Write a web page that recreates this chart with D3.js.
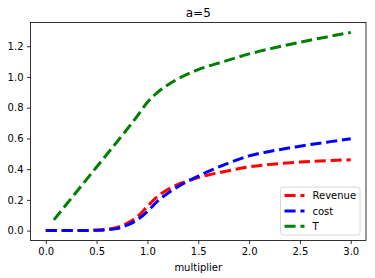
<!DOCTYPE html>
<html>
<head>
<meta charset="utf-8">
<script src="https://cdn.jsdelivr.net/npm/d3@7"></script>
<style>
  body { margin: 0; background: #fff; }
  svg { display: block; font-family: "DejaVu Sans", sans-serif; }
</style>
</head>
<body>
<svg id="canvas" width="375" height="278"></svg>
<script>
// values
const revenueX = [0, 0.2, 0.4, 0.5, 0.6, 0.7, 0.8, 0.9, 1.0, 1.1, 1.2, 1.3, 1.4, 1.5, 1.6, 1.8, 2.0, 2.2, 2.5, 2.8, 3.0];
const revenueY = [0, 0, 0.001, 0.003, 0.008, 0.02, 0.048, 0.09, 0.158, 0.222, 0.268, 0.3, 0.325, 0.345, 0.362, 0.39, 0.415, 0.43, 0.446, 0.456, 0.461];

const costX = [0, 0.2, 0.4, 0.5, 0.6, 0.7, 0.8, 0.9, 1.0, 1.1, 1.2, 1.3, 1.4, 1.5, 1.6, 1.8, 2.0, 2.2, 2.5, 2.8, 3.0];
const costY = [0, 0, 0.001, 0.002, 0.005, 0.013, 0.035, 0.07, 0.125, 0.192, 0.243, 0.286, 0.322, 0.355, 0.385, 0.44, 0.486, 0.515, 0.549, 0.579, 0.598];

const tX = [0.08, 0.2, 0.4, 0.6, 0.8, 0.9, 1.0, 1.1, 1.2, 1.3, 1.4, 1.5, 1.75, 2.0, 2.25, 2.5, 2.75, 3.0];
const tY = [0.07, 0.168, 0.332, 0.495, 0.66, 0.745, 0.835, 0.9, 0.948, 0.988, 1.02, 1.048, 1.1, 1.15, 1.19, 1.226, 1.259, 1.29];

const xTicks = [0.0, 0.5, 1.0, 1.5, 2.0, 2.5, 3.0];
const yTicks = [0.0, 0.2, 0.4, 0.6, 0.8, 1.0, 1.2];

const series = [
  {name: 'Revenue', xs: revenueX, ys: revenueY, color: '#ff0000'},
  {name: 'cost', xs: costX, ys: costY, color: '#0000ff'},
  {name: 'T', xs: tX, ys: tY, color: '#008000'}
];

const margin = {left: 30.5, right: 9, top: 22.5, bottom: 37.5};
const W = 375, H = 278;

let canvas = d3.select('#canvas');

// matplotlib style 5% padding on data range
let x = d3.scaleLinear().domain([-0.15, 3.15]).range([margin.left, W - margin.right]);
let y = d3.scaleLinear().domain([-0.0645, 1.3545]).range([H - margin.bottom, margin.top]);

let line = d3.line()
  .x(d => x(d[0]))
  .y(d => y(d[1]))
  .curve(d3.curveMonotoneX);

canvas.append('clipPath').attr('id', 'clip')
  .append('rect')
  .attr('x', margin.left).attr('y', margin.top)
  .attr('width', W - margin.left - margin.right)
  .attr('height', H - margin.top - margin.bottom);

let plot = canvas.append('g').attr('clip-path', 'url(#clip)');

series.forEach(s => {
  plot.append('path')
    .datum(s.xs.map((v, i) => [v, s.ys[i]]))
    .attr('d', line)
    .attr('fill', 'none')
    .attr('stroke', s.color)
    .attr('stroke-width', 3)
    .attr('stroke-dasharray', '11.1,4.8');
});

// axes
let xAxis = canvas.append('g')
  .attr('transform', `translate(0,${H - margin.bottom})`)
  .call(d3.axisBottom(x).tickValues(xTicks).tickFormat(d3.format('.1f')).tickSize(3.5).tickPadding(3.5));
let yAxis = canvas.append('g')
  .attr('transform', `translate(${margin.left},0)`)
  .call(d3.axisLeft(y).tickValues(yTicks).tickFormat(d3.format('.1f')).tickSize(3.5).tickPadding(3.5));

[xAxis, yAxis].forEach(a => {
  a.select('.domain').remove();
  a.selectAll('line').attr('stroke', '#000').attr('stroke-width', 0.8);
  a.selectAll('text').attr('font-size', 10).attr('fill', '#000')
    .attr('font-family', '"DejaVu Sans", sans-serif');
});

// frame
canvas.append('rect')
  .attr('x', margin.left).attr('y', margin.top)
  .attr('width', W - margin.left - margin.right)
  .attr('height', H - margin.top - margin.bottom)
  .attr('fill', 'none').attr('stroke', '#000').attr('stroke-width', 0.8);

// title and label
canvas.append('text')
  .attr('x', (margin.left + W - margin.right) / 2).attr('y', 16.5)
  .attr('text-anchor', 'middle').attr('font-size', 12).text('a=5');

canvas.append('text')
  .attr('x', (margin.left + W - margin.right) / 2).attr('y', 271)
  .attr('text-anchor', 'middle').attr('font-size', 10).text('multiplier');

// legend
let legend = canvas.append('g');
legend.append('rect')
  .attr('x', 280.5).attr('y', 187).attr('width', 79.5).attr('height', 48)
  .attr('rx', 2.5)
  .attr('fill', '#fff').attr('fill-opacity', 0.8)
  .attr('stroke', '#cccccc').attr('stroke-width', 0.8);

series.forEach((s, i) => {
  let yy = 195.5 + i * 15.4;
  legend.append('line')
    .attr('x1', 284.5).attr('x2', 304.5)
    .attr('y1', yy).attr('y2', yy)
    .attr('stroke', s.color).attr('stroke-width', 3)
    .attr('stroke-dasharray', '11.1,4.8');
  legend.append('text')
    .attr('x', 312.5).attr('y', yy + 3.6)
    .attr('font-size', 10).text(s.name);
});
</script>
</body>
</html>
